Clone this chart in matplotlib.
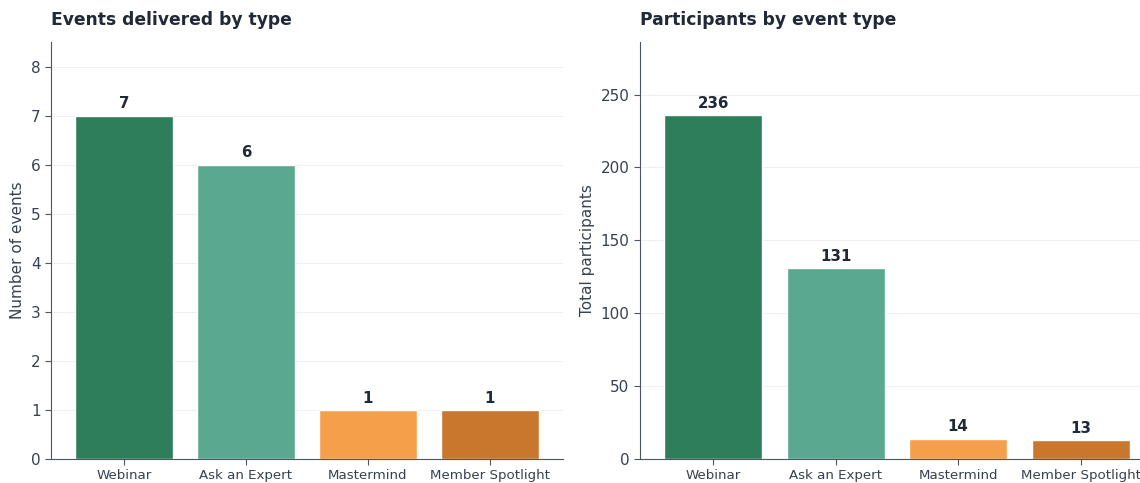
import matplotlib
matplotlib.use("Agg")
import matplotlib.pyplot as plt

categories = ["Webinar", "Ask an Expert", "Mastermind", "Member Spotlight"]
events = [7, 6, 1, 1]
participants = [236, 131, 14, 13]
colors = ["#2e7d5b", "#5aa88f", "#f4a04b", "#c8772d"]

txt = "#1f2937"
spine = "#4b5563"

fig = plt.figure(figsize=(11.4, 4.83), dpi=100)
ax1 = fig.add_axes([0.0447, 0.0497, 0.4491, 0.8633])
ax2 = fig.add_axes([0.5614, 0.0497, 0.4509, 0.8633])

def style(ax, values, title, ylabel, ylim, yticks):
    x = range(len(categories))
    bars = ax.bar(x, values, width=0.8, color=colors, edgecolor="white", linewidth=1, zorder=2)
    ax.set_xlim(-0.6, 3.6)
    ax.set_ylim(0, ylim)
    ax.set_yticks(yticks)
    ax.set_xticks(list(x))
    ax.set_xticklabels(categories, fontsize=9.6, color="#374151")
    ax.tick_params(axis="y", labelsize=11, colors="#374151")
    ax.tick_params(axis="both", color=spine, length=4)
    for s in ["top", "right"]:
        ax.spines[s].set_visible(False)
    for s in ["left", "bottom"]:
        ax.spines[s].set_color(spine)
    ax.yaxis.grid(True, color="#f0f0f0", linewidth=0.8, zorder=0)
    ax.set_axisbelow(True)
    ax.set_title(title, loc="left", fontsize=12.3, fontweight="bold", color=txt, pad=12)
    ax.set_ylabel(ylabel, fontsize=11, color="#374151")
    for b, v in zip(bars, values):
        ax.annotate(str(v), (b.get_x() + b.get_width() / 2, b.get_height()),
                    xytext=(0, 3), textcoords="offset points", ha="center", va="bottom",
                    fontsize=10.8, fontweight="bold", color=txt)

style(ax1, events, "Events delivered by type", "Number of events", 8.5, range(0, 9))
style(ax2, participants, "Participants by event type", "Total participants", 286, range(0, 251, 50))

fig.savefig("out.png", dpi=100)
